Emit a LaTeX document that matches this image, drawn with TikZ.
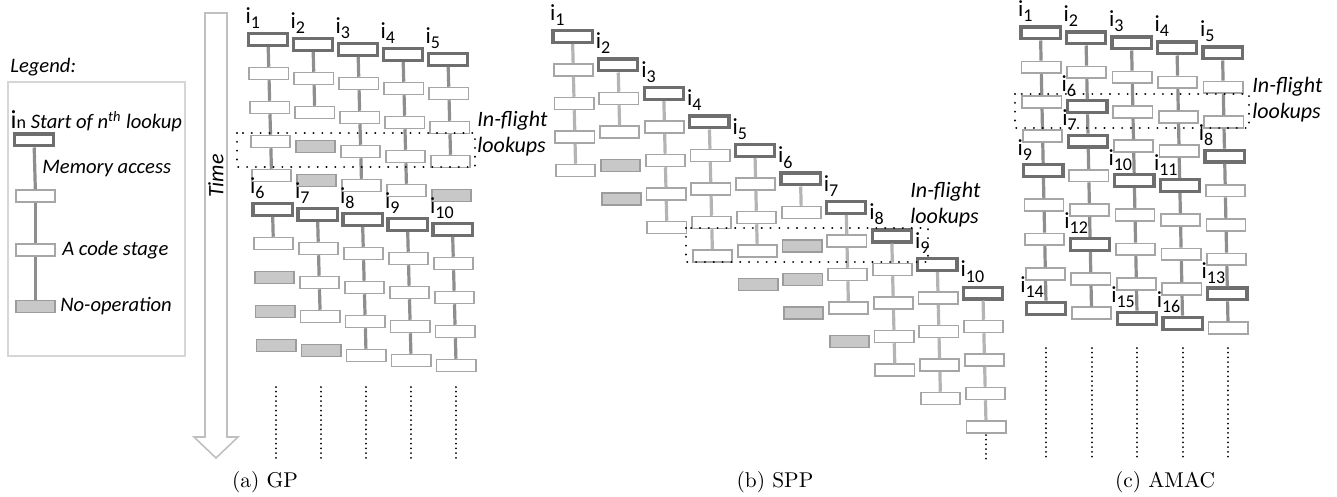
\documentclass[tikz,border=0pt]{standalone}
\usepackage{fontspec}
\newfontfamily\calib{Carlito}
\usetikzlibrary{positioning}

\definecolor{startgray}{HTML}{6E6E6E}
\definecolor{codegray}{HTML}{A6A6A6}
\definecolor{nopfill}{HTML}{C8C8C8}
\definecolor{nopgray}{HTML}{9C9C9C}
\definecolor{linkgray}{HTML}{8E8E8E}
\definecolor{lightlink}{HTML}{B4B4B4}
\definecolor{framegray}{HTML}{D6D6D6}
\definecolor{arrowgray}{HTML}{C0C0C0}

\newcommand{\isub}[1]{i\raisebox{-2.5pt}{\fontsize{9}{9}\selectfont #1}}

\tikzset{
  brick/.style={rectangle, inner sep=0pt, minimum width=19.6pt, minimum height=5.9pt},
  brick s/.style={brick, draw=startgray, line width=1.6pt, fill=white},
  brick S/.style={brick s},
  brick c/.style={brick, draw=codegray, line width=0.85pt, fill=white},
  brick n/.style={brick, draw=nopgray, line width=0.85pt, fill=nopfill},
  link/.style={draw=linkgray, line width=1.6pt},
  link c/.style={link},
  link S/.style={link},
  link s/.style={},
  link n/.style={},
  ilabel/.style={anchor=base west, inner sep=0pt, font=\calib\fontsize{11.5}{12}\selectfont},
  note/.style={inner sep=0pt, font=\calib\itshape\fontsize{11}{13}\selectfont},
  legendnote/.style={note, font=\calib\itshape\fontsize{10.3}{12}\selectfont},
  inflight/.style={draw, line width=1.1pt, line cap=round, dash pattern=on 0.01pt off 4.4pt},
  moredots/.style={draw, line width=1pt, line cap=round, dash pattern=on 0.01pt off 2.35pt},
  subcaption/.style={inner sep=0pt, font=\fontsize{10.7}{12}\selectfont},
}

\begin{document}
\begin{tikzpicture}[x=0.5pt, y=-0.5pt]
\useasboundingbox (0,0) rectangle (1337,497);

% legend
\node[legendnote, anchor=base west] (lg-title) at (10,73) {Legend:};
\draw[draw=framegray, line width=0.8pt] (8,82) rectangle (185,356);
\node[brick s] (lg-start) at (34,140) {};
\node[brick c] (lg-mem)   at (35.5,196) {};
\node[brick c] (lg-code)  at (35.5,250) {};
\node[brick n] (lg-nop)   at (35.5,306.5) {};
\node[ilabel, font=\calib\fontsize{13}{13}\selectfont] (lg-i)
  at ([shift={(-2.5,-3.5)}]lg-start.north west) {i{\fontsize{9}{9}\selectfont n}};
\node[legendnote, base right=2pt of lg-i] (lg-starttext) {Start of n\textsuperscript{th} lookup};
\draw[link] (lg-start) -- node[legendnote, right=3pt] (lg-memtext) {Memory access} (lg-mem);
\draw[link] (lg-mem) -- (lg-code);
\draw[link] (lg-code) -- (lg-nop);
\node[legendnote, right=3pt of lg-code] (lg-codetext) {A code stage};
\node[legendnote, right=2pt of lg-nop] (lg-noptext) {No-operation};

% time arrow
\draw[draw=arrowgray, line width=0.8pt] (205,13) -- (227,13) -- (227,437) -- (238,437)
  -- (216,458) -- (194,437) -- (205,437) -- cycle;
\node[note, rotate=90] (time) at (216,176) {Time};

% (a) GP
\foreach \c/\seq in {1/{s,c,c,c,c,s,c,n,n,n}, 2/{s,c,c,n,n,s,c,c,c,n},
    3/{s,c,c,c,c,s,c,c,c,c}, 4/{s,c,c,c,c,s,c,c,c,c}, 5/{s,c,c,c,n,s,c,c,c,c}}{
  \foreach \t [count=\r from 0] in \seq {
    \node[brick \t] (gp-\c-\r) at ({268+45*(\c-1)+0.9*\r}, {39.5+5*(\c-1)+34*\r}) {};
    \ifnum\r>0
      \pgfmathtruncatemacro\p{\r-1}
      \path[link \t] (gp-\c-\p) -- (gp-\c-\r);
    \fi
  }
}
\foreach \c/\r/\n in {1/0/1, 2/0/2, 3/0/3, 4/0/4, 5/0/5, 1/5/6, 2/5/7, 3/5/8, 4/5/9, 5/5/10}
  \node[ilabel] (gp-i\n) at ([shift={(-1.5,-8.5)}]gp-\c-\r.north west) {\isub{\n}};
\draw[inflight] (237,133) rectangle (475,167);
\node[note, align=left, anchor=north west] (gp-fl) at (477,111) {In-flight\\lookups};
\foreach \c in {1,...,5}
  \draw[moredots] (gp-\c-9 |- 0,387) -- (gp-\c-9 |- 0,460);
\node[subcaption] (cap-gp) at (265,482) {(a) GP};

% (b) SPP
\begin{scope}[link/.style={draw=lightlink, line width=1.6pt}]
\foreach \c/\seq in {1/{s,c,c,c,c}, 2/{s,c,c,n,n}, 3/{s,c,c,c,c}, 4/{s,c,c,c,c},
    5/{s,c,c,c,n}, 6/{s,c,n,n,n}, 7/{s,c,c,c,n}, 8/{s,c,c,c,c}, 9/{s,c,c,c,c}, 10/{s,c,c,c,c}}{
  \foreach \t [count=\r from 0] in \seq {
    \node[brick \t] (spp-\c-\r) at ({572.5+45.6*(\c-1)+0.8*\r}, {36.5+28.5*(\c-1)+33.5*\r}) {};
    \ifnum\r>0
      \pgfmathtruncatemacro\p{\r-1}
      \path[link \t] (spp-\c-\p) -- (spp-\c-\r);
    \fi
  }
}
\end{scope}
\foreach \c in {1,...,10}
  \node[ilabel] (spp-i\c) at ([shift={(-1.5,-8.5)}]spp-\c-0.north west) {\isub{\c}};
\draw[inflight] (686,228) rectangle (928,262);
\node[note, align=left, anchor=north west] (spp-fl) at (910,182) {In-flight\\lookups};
\draw[moredots] (spp-10-4 |- 0,435) -- (spp-10-4 |- 0,460);
\node[subcaption] (cap-spp) at (775,482) {(b) SPP};

% (c) AMAC
\foreach \c/\seq in {1/{s,c,c,c,S,c,c,c,S}, 2/{s,c,S,S,c,c,S,c,c}, 3/{s,c,c,c,S,c,c,c,S},
    4/{s,c,c,c,S,c,c,c,S}, 5/{s,c,c,S,c,c,c,S,c}}{
  \foreach \t [count=\r from 0] in \seq {
    \node[brick \t] (amac-\c-\r) at ({1040.5+45.5*(\c-1)+0.7*\r}, {33+5*(\c-1)+34.4*\r}) {};
    \ifnum\r>0
      \pgfmathtruncatemacro\p{\r-1}
      \path[link \t] (amac-\c-\p) -- (amac-\c-\r);
    \fi
  }
}
\foreach \c in {1,...,5}
  \node[ilabel] (amac-i\c) at ([shift={(-1.5,-8.5)}]amac-\c-0.north west) {\isub{\c}};
\foreach \c/\r/\n in {2/2/6, 2/3/7, 5/3/8, 1/4/9, 3/4/10, 4/4/11, 2/6/12, 5/7/13, 1/8/14, 3/8/15, 4/8/16}
  \node[ilabel] (amac-i\n) at ([shift={(-5,-8)}]amac-\c-\r.north west) {\isub{\n}};
\draw[inflight] (1015,94) rectangle (1249,128);
\node[note, align=left, anchor=north west] (amac-fl) at (1252,77) {In-flight\\lookups};
\foreach \c in {1,...,5}
  \draw[moredots] (amac-\c-8 |- 0,348) -- (amac-\c-8 |- 0,460);
\node[subcaption] (cap-amac) at (1165,482) {(c) AMAC};
\end{tikzpicture}
\end{document}
